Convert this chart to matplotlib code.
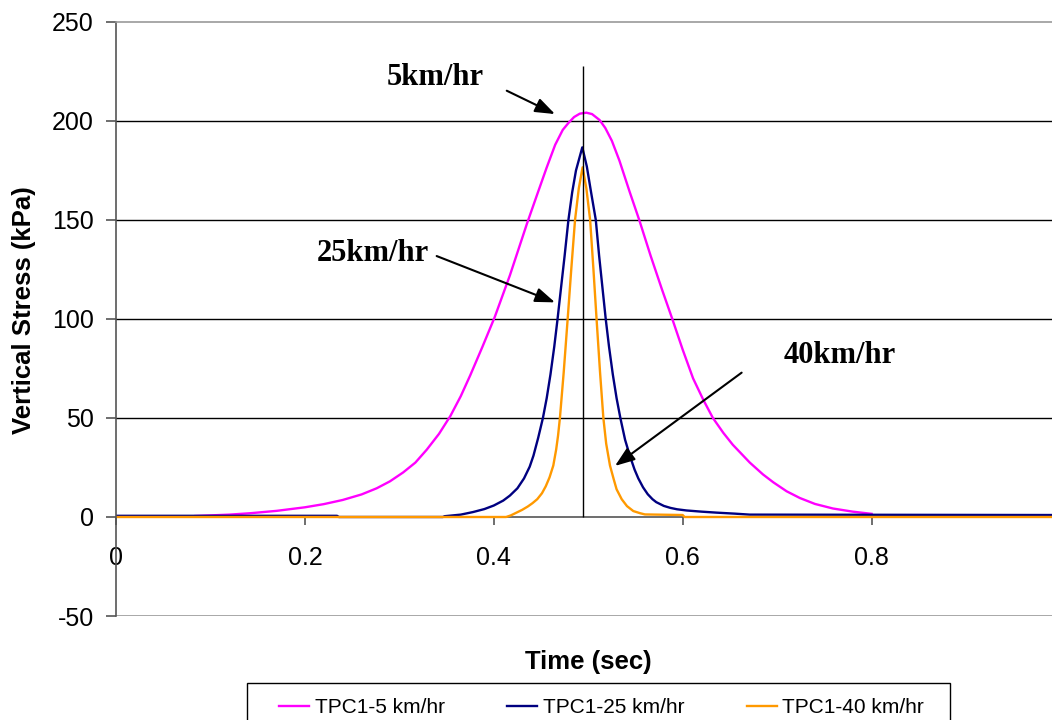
import matplotlib
matplotlib.use("Agg")
import matplotlib.pyplot as plt
from matplotlib.patches import Rectangle

plt.rcParams["axes.unicode_minus"] = False

# ---------------- data ----------------
t_5 = [0.084, 0.12, 0.142, 0.17, 0.2, 0.22, 0.24, 0.26, 0.276, 0.29, 0.304, 0.317,
       0.329, 0.342, 0.354, 0.365, 0.375, 0.388, 0.401, 0.417, 0.435, 0.446, 0.456,
       0.465, 0.473, 0.479, 0.485, 0.491, 0.498, 0.504, 0.512, 0.518, 0.525, 0.533,
       0.544, 0.554, 0.566, 0.578, 0.589, 0.600, 0.611, 0.622, 0.632, 0.643, 0.653,
       0.662, 0.671, 0.685, 0.696, 0.71, 0.724, 0.74, 0.759, 0.78, 0.80]
s_5 = [0.5, 1.2, 1.9, 3.1, 4.9, 6.5, 8.6, 11.4, 14.5, 18, 22.5, 27.5,
       34, 42, 51, 61, 71.5, 86, 101, 122, 148, 163, 176.5,
       188, 195.5, 199, 202, 203.7, 204.2, 203.5, 200.5, 196.5, 190, 180,
       164, 150, 132, 115, 100, 84.5, 70, 59, 50, 42.5, 36.5,
       32, 27.5, 21.5, 17.5, 13, 9.6, 6.6, 4.3, 2.7, 1.6]

t_25 = [0.0, 0.234, 0.236, 0.346, 0.348, 0.365, 0.378, 0.39, 0.40, 0.410, 0.417,
        0.425, 0.432, 0.438, 0.442, 0.447, 0.452, 0.456, 0.46, 0.464, 0.4675, 0.471,
        0.475, 0.479, 0.483, 0.487, 0.4937, 0.4985, 0.503, 0.508, 0.5115, 0.515, 0.5185,
        0.522, 0.526, 0.530, 0.534, 0.539, 0.544, 0.549, 0.553, 0.558, 0.563, 0.568,
        0.572, 0.58, 0.587, 0.594, 0.604, 0.62, 0.636, 0.655, 0.671, 0.99]
s_25 = [0.6, 0.6, 0.0, 0.0, 0.4, 1.2, 2.5, 4.0, 5.8, 8.3, 10.8,
        14.5, 19.5, 25.4, 31, 40, 50, 60, 72, 86, 100, 115,
        132, 150, 164, 175, 186.7, 177, 164, 150, 132, 116, 100,
        86, 72, 60, 50, 39, 31, 24, 19.5, 15, 11.5, 9,
        7.5, 5.6, 4.6, 3.9, 3.3, 2.7, 2.2, 1.7, 1.2, 1.0]

t_40 = [0.0, 0.413, 0.418, 0.424, 0.43, 0.436, 0.441, 0.446, 0.451, 0.455, 0.459,
        0.463, 0.466, 0.468, 0.470, 0.474, 0.4782, 0.482, 0.486, 0.49, 0.494, 0.498,
        0.502, 0.5055, 0.5088, 0.5125, 0.516, 0.519, 0.523, 0.527, 0.53, 0.5354, 0.541,
        0.5477, 0.555, 0.56, 0.60, 0.602, 0.99]
s_40 = [0.0, 0.0, 0.8, 2.2, 3.6, 5.3, 7.0, 9.0, 12, 15.5, 20,
        26, 34, 41, 50, 73, 100, 125, 150, 166, 176.6, 166,
        150, 125, 100, 73, 50, 37, 26, 19, 14, 9, 5.5,
        3, 1.9, 1.3, 1.0, 0.0, 0.0]

series_labels = ["TPC1-5 km/hr", "TPC1-25 km/hr", "TPC1-40 km/hr"]
series_colors = ["#FF00FF", "#000080", "#FF9900"]

x_ticks = [0, 0.2, 0.4, 0.6, 0.8]
x_tick_labels = ["0", "0.2", "0.4", "0.6", "0.8"]
y_ticks = [-50, 0, 50, 100, 150, 200, 250]

peak_time = 0.4944
peak_line_top = 228

annotations = [
    # text, text position (t, s), arrow start (t, s), arrow tip (t, s)
    ("5km/hr", (0.3377, 218.2), (0.4137, 215.3), (0.4648, 203.5)),
    ("25km/hr", (0.2724, 129.4), (0.3395, 131.8), (0.4648, 108.4)),
    ("40km/hr", (0.7666, 77.6), (0.6624, 72.9), (0.5283, 25.8)),
]

# ---------------- figure ----------------
W, H = 1052, 720
fig = plt.figure(figsize=(W / 100, H / 100), dpi=100)
ax = fig.add_axes([116 / W, 1 - 616 / H, 944.5 / W, 594 / H])

sans = "Liberation Sans"

for t, s, lab, c in zip([t_5, t_25, t_40], [s_5, s_25, s_40], series_labels, series_colors):
    ax.plot(t, s, color=c, lw=1.7, label=lab, solid_joinstyle="round")

ax.set_xlim(0, 1.0)
ax.set_ylim(-50, 250)

# gridlines
for y in y_ticks:
    if 0 < y < 250:
        ax.axhline(y, color="black", lw=1.0, zorder=0.5)
ax.axhline(-50, color="#999999", lw=1.2, zorder=0.5)

# spines
ax.spines["right"].set_visible(False)
ax.spines["top"].set_color("#999999")
ax.spines["top"].set_linewidth(1.2)
ax.spines["left"].set_color("#555555")
ax.spines["left"].set_linewidth(1.2)
ax.spines["bottom"].set_position(("data", 0))
ax.spines["bottom"].set_color("#555555")
ax.spines["bottom"].set_linewidth(1.2)
ax.spines["bottom"].set_zorder(0.6)

ax.set_yticks(y_ticks)
ax.set_xticks(x_ticks)
ax.set_xticklabels(x_tick_labels)
ax.tick_params(axis="y", direction="out", length=7, width=1.2, color="#555555",
               pad=9, labelsize=18, labelfontfamily=sans)
ax.tick_params(axis="x", direction="out", length=6, width=1.2, color="#555555",
               pad=15, labelsize=18, labelfontfamily=sans)

# peak marker line
ax.vlines(peak_time, 0, peak_line_top, color="black", lw=1.0, zorder=3)

ax.set_xlabel("Time (sec)", fontsize=18.5, fontweight="bold", family=sans)
ax.xaxis.set_label_coords(0.5, -0.0572)
fig.text(24 / W, 1 - 310 / H, "Vertical Stress (kPa)", rotation=90, ha="center",
         va="center", fontsize=18.5, fontweight="bold", family=sans)

for text, tpos, start, tip in annotations:
    ax.text(tpos[0], tpos[1], text, ha="center", va="baseline",
            fontsize=22, fontweight="bold", family="Liberation Serif", zorder=5)
    ax.annotate("", xy=tip, xytext=start,
                arrowprops=dict(arrowstyle="-|>,head_length=0.6,head_width=0.22",
                                color="black", lw=1.5, shrinkA=0, shrinkB=0,
                                mutation_scale=20), zorder=5)

# legend frame drawn separately (wide side margins as in the reference)
frame = Rectangle((247 / W, -0.02), (950 - 247) / W, (720 - 683) / H + 0.02,
                  transform=fig.transFigure, facecolor="white", edgecolor="black",
                  lw=1.0, zorder=1)
fig.patches.append(frame)

leg = fig.legend(loc="upper center", bbox_to_anchor=(601.5 / W, 1 - 694 / H), ncol=3,
                 prop={"family": sans, "size": 15}, handlelength=1.45,
                 handletextpad=0.25, columnspacing=3.0, frameon=False,
                 borderaxespad=0, borderpad=0.2)
leg.set_zorder(2)

fig.savefig("out.png", dpi=100)
